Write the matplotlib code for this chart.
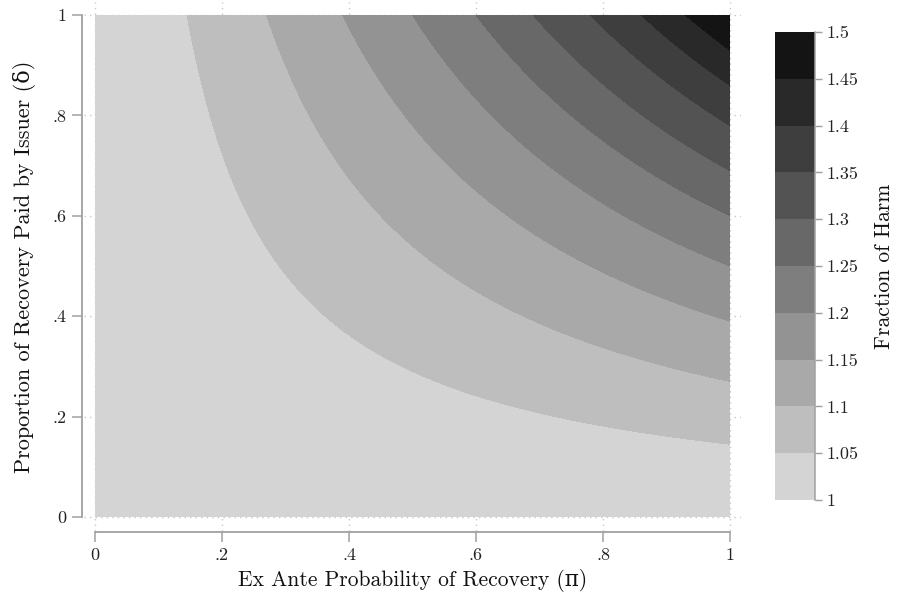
import numpy as np
import matplotlib
matplotlib.use("Agg")
import matplotlib.pyplot as plt
from matplotlib.colors import ListedColormap, BoundaryNorm

# ---- data ----
levels = [1.0, 1.05, 1.1, 1.15, 1.2, 1.25, 1.3, 1.35, 1.4, 1.45, 1.5]
# value of pi*delta at which each inner level boundary is crossed (read at pi = 1)
boundary_products = [0.145, 0.27, 0.39, 0.50, 0.60, 0.69, 0.78, 0.86, 0.93]
grays = ["#d4d4d4", "#bebebe", "#a9a9a9", "#939393", "#7e7e7e",
         "#686868", "#535353", "#3e3e3e", "#292929", "#141414"]
tick_vals = [0, 0.2, 0.4, 0.6, 0.8, 1]
tick_labels = ["0", ".2", ".4", ".6", ".8", "1"]
cbar_ticks = levels
cbar_labels = ["1", "1.05", "1.1", "1.15", "1.2", "1.25", "1.3", "1.35", "1.4", "1.45", "1.5"]
xlabel = "Ex Ante Probability of Recovery (π)"
ylabel = "Proportion of Recovery Paid by Issuer (δ)"
cbar_title = "Fraction of Harm"

FONT = ["cmr10", "DejaVu Serif"]
plt.rcParams["font.family"] = FONT
plt.rcParams["axes.formatter.use_mathtext"] = True

fig = plt.figure(figsize=(8.98, 5.93), dpi=100)
ax = fig.add_axes([84/898, (593-531)/593, 657/898, 529/593])

pi = np.linspace(0, 1, 501)
de = np.linspace(0, 1, 501)
P, D = np.meshgrid(pi, de)
prod_pts = [0.0] + boundary_products + [1.0]
Z = np.interp(P * D, prod_pts, levels)

cmap = ListedColormap(grays)
norm = BoundaryNorm(levels, cmap.N)
cf = ax.contourf(P, D, Z, levels=levels, cmap=cmap, norm=norm, zorder=2)

ax.set_xlim(-11/635, 1 + 11/635)
ax.set_ylim(-14/501, 1 + 13/501)

ax.set_xticks(tick_vals)
ax.set_xticklabels(tick_labels)
ax.set_yticks(tick_vals)
ax.set_yticklabels(tick_labels)
ax.grid(True, linestyle=(0, (1, 3)), color="#c8c8c8", linewidth=1.0, zorder=0)
ax.set_axisbelow(True)

for s in ["top", "right"]:
    ax.spines[s].set_visible(False)
for s in ["left", "bottom"]:
    ax.spines[s].set_bounds(0, 1)
    ax.spines[s].set_color("#a0a0a0")
    ax.spines[s].set_linewidth(1.3)
ax.spines["left"].set_position(("outward", 1.5))
ax.spines["bottom"].set_position(("outward", 1))
ax.tick_params(axis="both", direction="out", length=7, width=1.1, color="#a0a0a0",
               labelsize=13, labelcolor="#222222", pad=4)

ax.set_xlabel(xlabel, fontsize=15.5, labelpad=4, color="#111111")
ax.set_ylabel(ylabel, fontsize=16, labelpad=12, color="#111111")

cax = fig.add_axes([775/898, (593-500)/593, 40/898, 468/593])
cb = fig.colorbar(cf, cax=cax, ticks=cbar_ticks)
cb.ax.set_yticklabels(cbar_labels)
cb.outline.set_visible(False)
cax.spines["right"].set_visible(True)
cax.spines["right"].set_color("#a0a0a0")
cax.spines["right"].set_linewidth(1.1)
cax.tick_params(axis="y", length=5, width=1.0, color="#a0a0a0", labelsize=13,
                labelcolor="#222222", pad=3)
cax.yaxis.set_label_position("right")
cb.set_label(cbar_title, fontsize=15.5, labelpad=12, color="#111111")

fig.savefig("out.png", dpi=100)
